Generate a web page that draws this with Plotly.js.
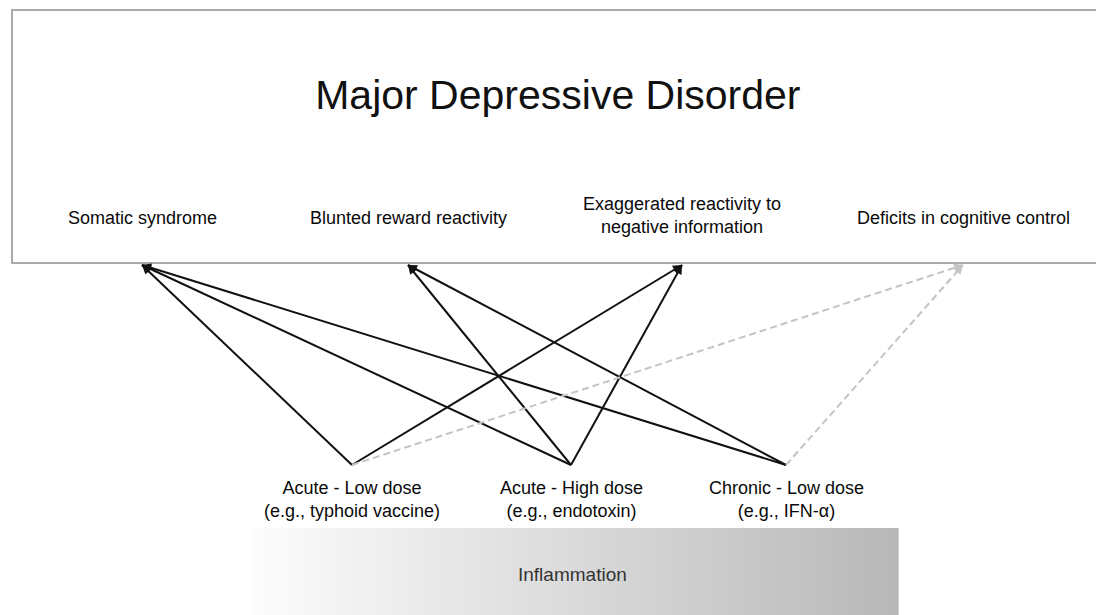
<!DOCTYPE html>
<html>
<head>
<meta charset="utf-8">
<script src="https://cdn.plot.ly/plotly-3.0.1.min.js"></script>
<style>html,body{margin:0;padding:0;background:#fff;}#chart{width:1096px;height:615px;}</style>
</head>
<body>
<div id="chart"></div>
<script>
// ---- data ----
const chartTitle = 'Major Depressive Disorder';
const symptoms = ['Somatic syndrome', 'Blunted reward reactivity', 'Exaggerated reactivity to<br>negative information', 'Deficits in cognitive control'];
const symptomX = [142, 408, 682, 963];
const inflammationTypes = ['Acute - Low dose<br>(e.g., typhoid vaccine)', 'Acute - High dose<br>(e.g., endotoxin)', 'Chronic - Low dose<br>(e.g., IFN-α)'];
const typeX = [352, 571, 786];
const linkType    = [0, 1, 2, 1, 2, 0, 1, 0, 2];
const linkSymptom = [0, 0, 0, 1, 1, 2, 2, 3, 3];
const linkStyle   = ['solid','solid','solid','solid','solid','solid','solid','dashed','dashed'];
const baseLabel = 'Inflammation';

// ---- layout constants ----
const W = 1096, H = 615;
const topY = 265, botY = 465;
const font = 'Liberation Sans, Arial, sans-serif';

const traces = [];
const annotations = [];
for (let i = 0; i < linkType.length; i++) {
  const x0 = typeX[linkType[i]], x1 = symptomX[linkSymptom[i]];
  const dashed = linkStyle[i] === 'dashed';
  const col = dashed ? '#c4c4c4' : '#111111';
  traces.push({
    type: 'scatter', mode: 'lines',
    x: [x0, x1], y: [botY, topY],
    line: {color: col, width: 2, dash: dashed ? '7px,4px' : 'solid'},
    hoverinfo: 'skip', showlegend: false
  });
  const dx = x0 - x1, dy = botY - topY, L = Math.hypot(dx, dy);
  annotations.push({
    x: x1, y: topY, xref: 'x', yref: 'y',
    ax: x1 + dx / L * 10, ay: topY + dy / L * 10, axref: 'x', ayref: 'y',
    text: '', showarrow: true, arrowhead: 2, arrowsize: 0.9, arrowwidth: 2,
    arrowcolor: col, standoff: 0
  });
}

symptoms.forEach((s, i) => {
  annotations.push({
    x: symptomX[i], y: s.includes('<br>') ? 215 : 218, xref: 'x', yref: 'y',
    text: s, showarrow: false, xanchor: 'center', yanchor: 'middle',
    font: {family: font, size: 18, color: '#0a0a0a'}
  });
});
inflammationTypes.forEach((s, i) => {
  annotations.push({
    x: typeX[i], y: 499, xref: 'x', yref: 'y',
    text: s, showarrow: false, xanchor: 'center', yanchor: 'middle',
    font: {family: font, size: 18, color: '#0a0a0a'}
  });
});
annotations.push({
  x: 572, y: 574, xref: 'x', yref: 'y', text: baseLabel, showarrow: false,
  xanchor: 'center', yanchor: 'middle', font: {family: font, size: 19, color: '#333'}
});

const shapes = [];
// gradient band (decoration)
const gx0 = 253, gx1 = 898, n = 129;
for (let k = 0; k < n; k++) {
  const t = k / (n - 1);
  const c = Math.round(252 - t * 68);
  shapes.push({type: 'rect', xref: 'x', yref: 'y', layer: 'below',
    x0: gx0 + (gx1 - gx0) * k / n, x1: gx0 + (gx1 - gx0) * (k + 1) / n + 0.6,
    y0: 528, y1: 620, line: {width: 0}, fillcolor: `rgb(${c},${c},${c})`});
}
// MDD box
shapes.push({type: 'rect', xref: 'x', yref: 'y', layer: 'below',
  x0: 12, x1: 1110, y0: 10, y1: 263, line: {color: '#aaaaaa', width: 2}, fillcolor: 'rgba(0,0,0,0)'});

const layout = {
  width: W, height: H,
  margin: {l: 0, r: 0, t: 0, b: 0},
  paper_bgcolor: '#fff', plot_bgcolor: '#fff',
  title: {text: chartTitle, x: 0.509, xanchor: 'center', y: 1 - 95 / H, yanchor: 'middle', yref: 'container',
    font: {family: font, size: 41, color: '#111'}},
  xaxis: {range: [0, W], visible: false, fixedrange: true},
  yaxis: {range: [H, 0], visible: false, fixedrange: true},
  shapes: shapes,
  annotations: annotations,
  showlegend: false
};
Plotly.newPlot('chart', traces, layout, {displayModeBar: false, staticPlot: true});
</script>
</body>
</html>
